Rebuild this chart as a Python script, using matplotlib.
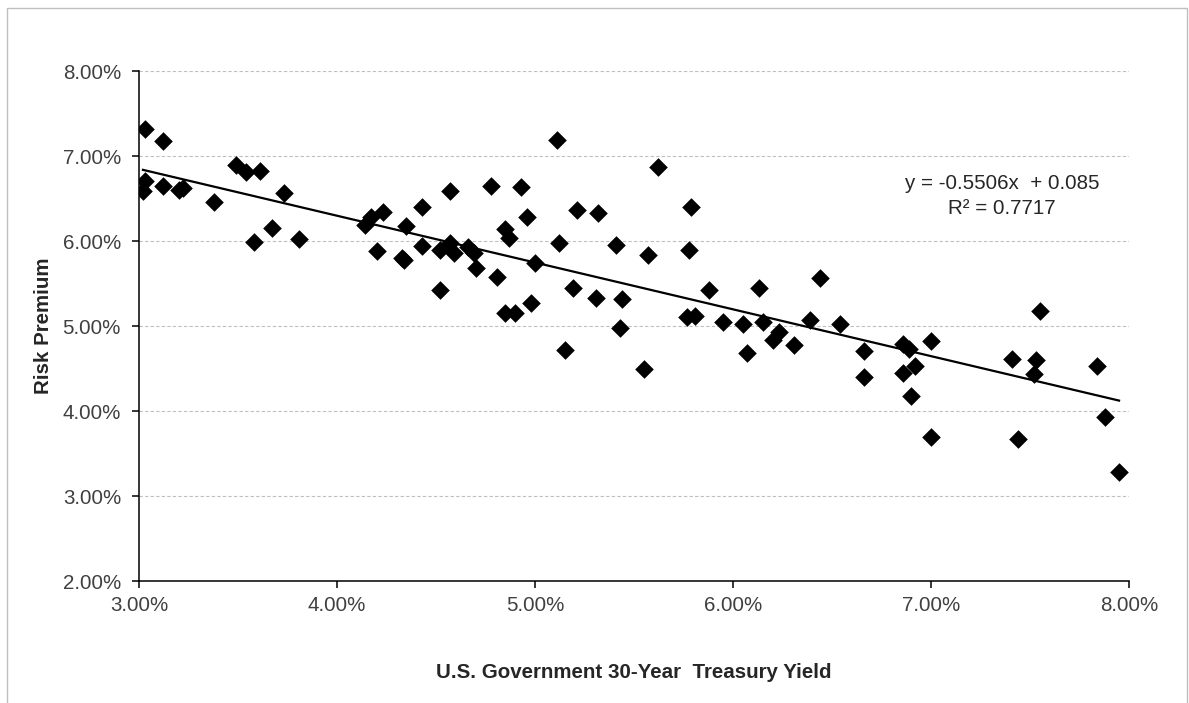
import numpy as np
import matplotlib.pyplot as plt
from matplotlib.ticker import FuncFormatter, MultipleLocator
from matplotlib.patches import Rectangle

plt.rcParams['font.family'] = ['Liberation Sans', 'DejaVu Sans']

# Treasury yield (%) vs. risk premium (%)
treasury_yield = [
    3.03, 3.03, 3.02, 3.12, 3.12, 3.20, 3.22, 3.38, 3.49, 3.54,
    3.61, 3.58, 3.67, 3.73, 3.81, 4.14, 4.17, 4.20, 4.23, 4.33,
    4.34, 4.35, 4.43, 4.43, 4.52, 4.52, 4.57, 4.57, 4.59, 4.66,
    4.69, 4.70, 4.78, 4.81, 4.85, 4.87, 4.85, 4.90, 4.93, 4.96,
    4.98, 5.00, 5.11, 5.12, 5.15, 5.19, 5.21, 5.31, 5.32, 5.41,
    5.43, 5.44, 5.55, 5.57, 5.62, 5.77, 5.78, 5.79, 5.81, 5.88,
    5.95, 6.05, 6.07, 6.13, 6.15, 6.20, 6.23, 6.31, 6.39, 6.44,
    6.54, 6.66, 6.66, 6.86, 6.89, 6.86, 6.90, 6.92, 7.00, 7.00,
    7.41, 7.44, 7.52, 7.53, 7.55, 7.84, 7.88, 7.95,
]
risk_premium = [
    7.32, 6.71, 6.59, 7.18, 6.65, 6.60, 6.62, 6.46, 6.89, 6.81,
    6.82, 5.99, 6.15, 6.56, 6.02, 6.19, 6.28, 5.88, 6.34, 5.80,
    5.78, 6.18, 6.40, 5.94, 5.89, 5.42, 6.59, 5.98, 5.86, 5.93,
    5.86, 5.68, 6.65, 5.58, 6.14, 6.04, 5.15, 5.15, 6.64, 6.28,
    5.27, 5.74, 7.19, 5.98, 4.72, 5.45, 6.36, 5.33, 6.33, 5.95,
    4.98, 5.32, 4.50, 5.84, 6.87, 5.11, 5.89, 6.40, 5.12, 5.42,
    5.05, 5.02, 4.68, 5.45, 5.05, 4.84, 4.93, 4.78, 5.07, 5.56,
    5.02, 4.71, 4.40, 4.79, 4.73, 4.45, 4.18, 4.53, 4.82, 3.70,
    4.61, 3.67, 4.43, 4.60, 5.18, 4.53, 3.93, 3.28,
]

# linear fit (values as fractions)
slope = -0.5506
intercept = 0.085
r_squared = 0.7717

x = np.array(treasury_yield)
y = np.array(risk_premium)

fig = plt.figure(figsize=(11.89, 7.03), dpi=100)
ax = fig.add_axes([0.1169, 0.1735, 0.8326, 0.7255])

# chart area border
fig.patches.append(Rectangle((0.006, -0.01), 0.9925, 0.999,
                             transform=fig.transFigure, fill=False,
                             edgecolor='#BFBFBF', lw=1.0))

ax.scatter(x, y, marker='D', s=90, color='black', zorder=3, linewidths=0)

xs = np.array([x.min(), x.max()])
ys = (slope * xs / 100 + intercept) * 100
ax.plot(xs, ys, color='black', lw=1.6, zorder=4)

ax.text(7.36, 6.53,
        f"y = {slope:.4f}x  + {intercept:.3f}\nR² = {r_squared:.4f}",
        ha='center', va='center', fontsize=14.8, color='#262626',
        linespacing=1.4)

ax.set_xlim(3, 8)
ax.set_ylim(2, 8)
ax.xaxis.set_major_locator(MultipleLocator(1))
ax.yaxis.set_major_locator(MultipleLocator(1))
pct = FuncFormatter(lambda v, _: f"{v:.2f}%")
ax.xaxis.set_major_formatter(pct)
ax.yaxis.set_major_formatter(pct)

ax.grid(axis='y', color='#BFBFBF', ls=(0, (3, 2)), lw=0.8)
ax.set_axisbelow(True)

for side in ['top', 'right']:
    ax.spines[side].set_visible(False)
for side in ['left', 'bottom']:
    ax.spines[side].set_color('black')
    ax.spines[side].set_linewidth(1.1)

ax.tick_params(axis='both', direction='out', length=5, width=1.1,
               color='black', labelsize=14.8, labelcolor='#404040')
ax.tick_params(axis='y', pad=8)
ax.tick_params(axis='x', pad=6)

ax.set_xlabel('U.S. Government 30-Year  Treasury Yield', fontsize=14.8,
              fontweight='bold', color='#262626', labelpad=34)
ax.set_ylabel('Risk Premium', fontsize=14.8, fontweight='bold',
              color='#262626', labelpad=7)

fig.savefig('out.png', dpi=100)
